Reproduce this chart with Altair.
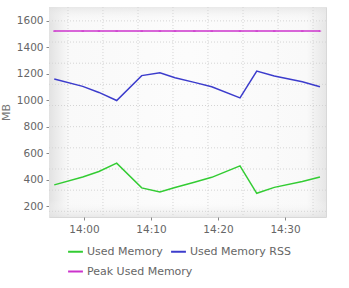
import altair as alt
import pandas as pd

times = ["2024-01-01T13:55:34", "2024-01-01T13:59:49", "2024-01-01T14:02:14", "2024-01-01T14:04:53",
         "2024-01-01T14:08:37", "2024-01-01T14:11:20", "2024-01-01T14:13:35", "2024-01-01T14:16:28",
         "2024-01-01T14:19:04", "2024-01-01T14:23:17", "2024-01-01T14:25:47", "2024-01-01T14:28:24",
         "2024-01-01T14:32:35", "2024-01-01T14:35:13"]
used_memory = [360, 420, 461, 524, 337, 306, 340, 380, 417, 504, 296, 341, 385, 420]
used_memory_rss = [1160, 1105, 1059, 998, 1186, 1208, 1170, 1135, 1102, 1018, 1221, 1183, 1140, 1102]
peak_used_memory = [1523] * 14

series_names = ["Used Memory", "Used Memory RSS", "Peak Used Memory"]
series_colors = ["#33cc33", "#3c3ccc", "#cc33cc"]

y_ticks = [200, 400, 600, 800, 1000, 1200, 1400, 1600]
hgrid = [160, 320, 480, 640, 800, 960, 1120, 1280, 1440, 1600]
vgrid = ["2024-01-01T13:57:37", "2024-01-01T14:02:50", "2024-01-01T14:08:04", "2024-01-01T14:13:17",
         "2024-01-01T14:18:30", "2024-01-01T14:23:44", "2024-01-01T14:28:58", "2024-01-01T14:34:11"]

rows = []
for name, vals in zip(series_names, [used_memory, used_memory_rss, peak_used_memory]):
    for t, v in zip(times, vals):
        rows.append({"time": t, "value": v, "series": name})
df = pd.DataFrame(rows)

xdom = [alt.DateTime(year=2024, month=1, date=1, hours=13, minutes=54, seconds=47),
        alt.DateTime(year=2024, month=1, date=1, hours=14, minutes=36, seconds=7)]
xticks = [alt.DateTime(year=2024, month=1, date=1, hours=14, minutes=m) for m in [0, 10, 20, 30]]
xscale = alt.Scale(domain=xdom)
yscale = alt.Scale(domain=[117, 1705], nice=False, zero=False)

xaxis = alt.Axis(values=xticks, format="%H:%M", grid=False, domain=False, labelOverlap=False,
                 tickColor="#888888", tickSize=3, labelPadding=4,
                 labelFontSize=10.5, labelColor="#666666")
yaxis = alt.Axis(values=y_ticks, format="d", grid=False, domain=False, labelOverlap=False,
                 tickColor="#888888", tickSize=3, labelPadding=3,
                 labelFontSize=10.5, labelColor="#666666",
                 titleFontSize=11, titleColor="#777777",
                 titleFontWeight="normal", titlePadding=5)


def X(field):
    return alt.X(field, scale=xscale, title=None, axis=xaxis)


def Y(field):
    return alt.Y(field, scale=yscale, title="MB", axis=yaxis)


bg_h = alt.Chart(pd.DataFrame({"a": [0]})).mark_rect(
    fill=alt.Gradient(gradient="linear", x1=0, x2=1, y1=0, y2=0,
                      stops=[alt.GradientStop(color="#e2e2e2", offset=0),
                             alt.GradientStop(color="#f9f9f9", offset=0.07),
                             alt.GradientStop(color="#fcfcfc", offset=0.5),
                             alt.GradientStop(color="#f9f9f9", offset=0.93),
                             alt.GradientStop(color="#e6e6e6", offset=1)])
).encode(x=alt.value(0), x2=alt.value("width"), y=alt.value(0), y2=alt.value("height"))

bg_v = alt.Chart(pd.DataFrame({"a": [0]})).mark_rect(
    fill=alt.Gradient(gradient="linear", x1=0, x2=0, y1=0, y2=1,
                      stops=[alt.GradientStop(color="rgba(225,225,225,0.7)", offset=0),
                             alt.GradientStop(color="rgba(255,255,255,0)", offset=0.08),
                             alt.GradientStop(color="rgba(255,255,255,0)", offset=0.92),
                             alt.GradientStop(color="rgba(225,225,225,0.7)", offset=1)])
).encode(x=alt.value(0), x2=alt.value("width"), y=alt.value(0), y2=alt.value("height"))

hg = alt.Chart(pd.DataFrame({"v": hgrid})).mark_rule(
    color="#d4d4d4", strokeDash=[1, 2], strokeWidth=1
).encode(y=Y("v:Q"))

vg = alt.Chart(pd.DataFrame({"t": vgrid})).mark_rule(
    color="#d4d4d4", strokeDash=[1, 2], strokeWidth=1
).encode(x=X("t:T"))

legend_common = dict(title=None, orient="none", direction="horizontal",
                     symbolType="stroke", symbolStrokeWidth=2, symbolSize=220,
                     labelFontSize=11, labelColor="#666666",
                     columnPadding=4, labelOffset=3)

main = alt.Chart(df).transform_filter(
    alt.FieldOneOfPredicate(field="series", oneOf=series_names[:2])
).mark_line(strokeWidth=1.5).encode(
    x=X("time:T"), y=Y("value:Q"),
    color=alt.Color("series:N", scale=alt.Scale(domain=series_names[:2], range=series_colors[:2]),
                    legend=alt.Legend(legendX=18, legendY=236, **legend_common)),
    order=alt.Order("time:T"),
)

peak = alt.Chart(df).transform_filter(
    alt.FieldEqualPredicate(field="series", equal=series_names[2])
).mark_line(strokeWidth=1.5, point=alt.OverlayMarkDef(shape="stroke", size=6, color="#a020a0", strokeWidth=1)).encode(
    x=X("time:T"), y=Y("value:Q"),
    stroke=alt.Stroke("series:N", scale=alt.Scale(domain=series_names[2:], range=series_colors[2:]),
                      legend=alt.Legend(legendX=18, legendY=256, **legend_common)),
    order=alt.Order("time:T"),
)

chart = alt.layer(bg_h, bg_v, hg, vg, peak, main).properties(
    width=277, height=210,
    padding={"left": 49, "top": 7, "right": 23, "bottom": 71},
    autosize=alt.AutoSizeParams(type="none"),
    background="white",
).resolve_scale(color="independent", stroke="independent").configure(
    font="DejaVu Sans"
).configure_view(stroke="#d8d8d8", strokeWidth=1)

chart.save("out.html", embed_options={"renderer": "svg", "actions": False})
